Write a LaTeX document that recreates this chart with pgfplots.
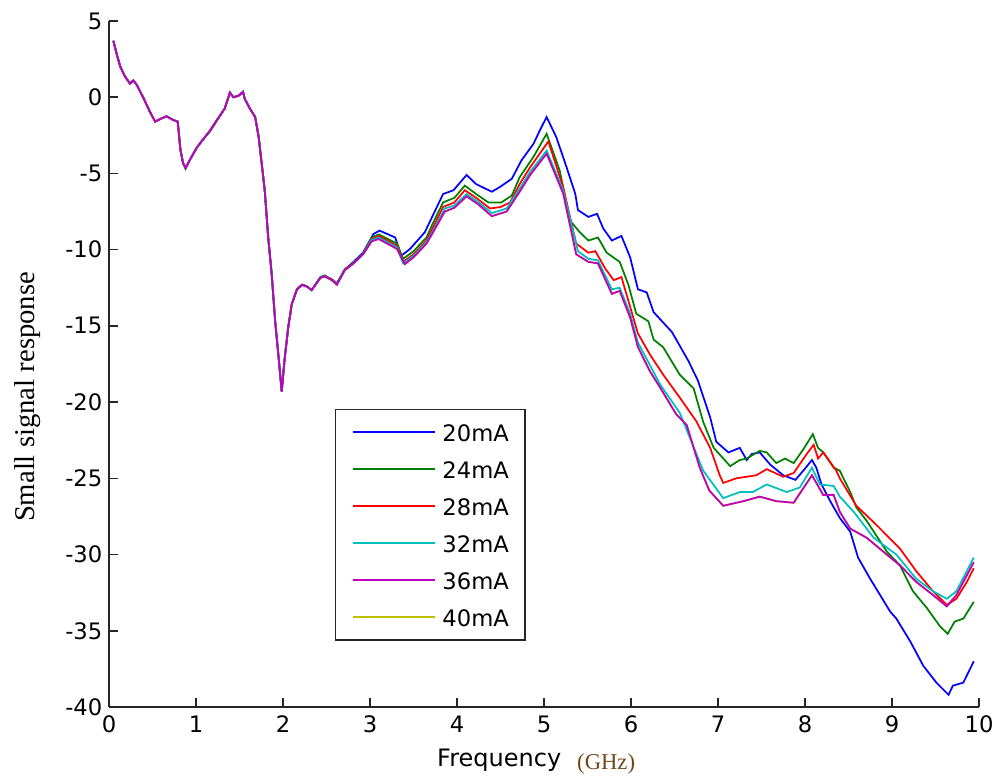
\documentclass[border=0pt]{standalone}
\usepackage{fontspec}
\setmainfont{DejaVu Sans}
\newfontfamily\serif{Liberation Serif}
\usepackage{pgfplots}
\pgfplotsset{compat=1.18}
\definecolor{mblue}{rgb}{0,0,1}
\definecolor{mgreen}{rgb}{0,0.5,0}
\definecolor{mred}{rgb}{1,0,0}
\definecolor{mcyan}{rgb}{0,0.75,0.75}
\definecolor{mmag}{rgb}{0.75,0,0.75}
\definecolor{myel}{rgb}{0.75,0.75,0}
\definecolor{axgray}{rgb}{0.15,0.15,0.15}
\definecolor{ghz}{rgb}{0.45,0.28,0.10}
\begin{document}
\begin{tikzpicture}
\useasboundingbox (-81.75pt,-56.25pt) rectangle (664.5pt,530.25pt);
\begin{axis}[
  at={(0,0)}, anchor=south west,
  scale only axis, width=652.5pt, height=514.5pt,
  xmin=0, xmax=10, ymin=-40, ymax=5,
  xtick={0,1,...,10}, ytick={-40,-35,...,5},
  axis lines=left,
  axis line style={-, line width=1.1pt, color=axgray},
  tick align=inside,
  major tick length=6.5pt,
  tick style={line width=1.1pt, color=axgray},
  /pgf/number format/assume math mode=true,
  ticklabel style={font=\fontsize{17}{20}\selectfont},
  yticklabel style={xshift=-1.5pt},
  xticklabel style={yshift=-3.3pt},
  xlabel={\fontsize{18}{21}\selectfont Frequency\hspace{12pt}\raisebox{-2.5pt}{\serif\fontsize{17}{19}\selectfont\color{ghz}(GHz)}},
  xlabel style={at={(axis description cs:0.491,-0.080)}, anchor=center},
  ylabel={\serif\fontsize{21.5}{24}\selectfont Small signal response},
  ylabel style={at={(axis description cs:-0.094,0.452)}, anchor=center},
  legend style={at={(axis description cs:0.2598,0.4344)}, anchor=north west,
    draw=axgray, line width=1pt, inner xsep=12pt, inner ysep=10.5pt,
    font=\fontsize{17}{20}\selectfont,
    nodes={inner sep=0pt, text height=13pt, text depth=0pt},
    row sep=14.75pt, column sep=5.25pt},
  legend cell align=left,
  legend image code/.code={\draw[#1, line width=1.3pt] (0pt,0pt) -- (61.5pt,0pt);},
  every axis plot/.append style={line width=1.3pt},
]
% 40 mA (hidden under 36 mA)
\addplot[myel, forget plot] coordinates {
(0.05,3.7)(0.09,2.8)(0.13,2.0)(0.18,1.4)(0.24,0.9)(0.28,1.1)(0.32,0.8)(0.40,-0.1)(0.47,-0.95)(0.53,-1.6)(0.60,-1.4)(0.66,-1.25)(0.74,-1.5)(0.79,-1.6)(0.82,-3.4)(0.85,-4.3)(0.88,-4.65)(0.93,-4.1)(1.01,-3.3)(1.07,-2.85)(1.16,-2.2)(1.24,-1.5)(1.33,-0.75)(1.39,0.3)(1.43,0.0)(1.49,0.1)(1.54,0.35)(1.56,-0.1)(1.62,-0.75)(1.68,-1.3)(1.72,-2.6)(1.76,-4.6)(1.79,-6.1)(1.83,-9.2)(1.87,-11.6)(1.91,-14.7)(1.95,-17.1)(1.985,-19.3)(2.02,-17.1)(2.06,-15.1)(2.10,-13.6)(2.16,-12.6)(2.22,-12.3)(2.27,-12.4)(2.33,-12.65)(2.43,-11.85)(2.48,-11.75)(2.56,-12.0)(2.62,-12.3)(2.71,-11.35)(2.81,-10.9)(2.92,-10.3)
(3.02,-9.45)(3.10,-9.3)(3.31,-9.95)(3.40,-10.95)(3.50,-10.5)(3.65,-9.6)(3.72,-8.9)(3.86,-7.5)(3.97,-7.25)(4.11,-6.5)(4.25,-7.05)(4.40,-7.8)(4.57,-7.5)(4.72,-6.2)(4.84,-5.1)(5.03,-3.7)(5.22,-6.3)(5.37,-10.3)(5.51,-10.8)(5.62,-10.9)(5.78,-12.9)(5.87,-12.7)(5.99,-14.45)(6.08,-16.4)(6.22,-18.0)(6.33,-19.0)(6.52,-20.8)(6.64,-21.5)(6.79,-24.3)(6.90,-25.8)(7.06,-26.8)(7.29,-26.5)(7.48,-26.2)(7.67,-26.5)(7.87,-26.6)(8.08,-24.8)(8.21,-26.1)(8.33,-26.1)(8.40,-27.2)(8.52,-28.3)(8.71,-28.9)(8.94,-30.0)(9.09,-30.7)(9.28,-31.8)(9.47,-32.65)(9.63,-33.4)(9.74,-32.65)(9.94,-30.5)
};
% 20 mA
\addplot[mblue] coordinates {
(0.05,3.7)(0.09,2.8)(0.13,2.0)(0.18,1.4)(0.24,0.9)(0.28,1.1)(0.32,0.8)(0.40,-0.1)(0.47,-0.95)(0.53,-1.6)(0.60,-1.4)(0.66,-1.25)(0.74,-1.5)(0.79,-1.6)(0.82,-3.4)(0.85,-4.3)(0.88,-4.65)(0.93,-4.1)(1.01,-3.3)(1.07,-2.85)(1.16,-2.2)(1.24,-1.5)(1.33,-0.75)(1.39,0.3)(1.43,0.0)(1.49,0.1)(1.54,0.35)(1.56,-0.1)(1.62,-0.75)(1.68,-1.3)(1.72,-2.6)(1.76,-4.6)(1.79,-6.1)(1.83,-9.2)(1.87,-11.6)(1.91,-14.7)(1.95,-17.1)(1.985,-19.3)(2.02,-17.1)(2.06,-15.1)(2.10,-13.6)(2.16,-12.6)(2.22,-12.3)(2.27,-12.4)(2.33,-12.65)(2.43,-11.8)(2.48,-11.7)(2.56,-11.95)(2.62,-12.2)(2.71,-11.3)(2.81,-10.8)(2.92,-10.2)
(3.04,-8.97)(3.11,-8.75)(3.29,-9.2)(3.36,-10.4)(3.46,-9.95)(3.63,-8.86)(3.71,-7.9)(3.84,-6.35)(3.96,-6.1)(4.11,-5.1)(4.22,-5.7)(4.40,-6.2)(4.49,-5.9)(4.63,-5.35)(4.74,-4.15)(4.88,-3.05)(4.95,-2.2)(5.03,-1.3)(5.14,-2.6)(5.26,-4.6)(5.36,-6.35)(5.39,-7.4)(5.51,-7.85)(5.61,-7.65)(5.68,-8.6)(5.78,-9.4)(5.89,-9.1)(5.99,-10.5)(6.08,-12.6)(6.18,-12.8)(6.26,-14.1)(6.47,-15.4)(6.66,-17.3)(6.77,-18.6)(6.91,-21.0)(6.98,-22.6)(7.12,-23.3)(7.25,-23.0)(7.33,-23.8)(7.39,-23.4)(7.48,-23.3)(7.60,-24.1)(7.75,-24.8)(7.89,-25.1)(7.98,-24.5)(8.08,-23.8)(8.13,-24.3)(8.19,-25.4)(8.29,-26.5)(8.40,-27.6)(8.52,-28.5)(8.61,-30.2)(8.75,-31.6)(8.98,-33.75)(9.05,-34.2)(9.21,-35.7)(9.36,-37.3)(9.51,-38.4)(9.65,-39.2)(9.70,-38.6)(9.82,-38.4)(9.94,-37.0)
};
\addlegendentry{20mA}
% 24 mA
\addplot[mgreen] coordinates {
(0.05,3.7)(0.09,2.8)(0.13,2.0)(0.18,1.4)(0.24,0.9)(0.28,1.1)(0.32,0.8)(0.40,-0.1)(0.47,-0.95)(0.53,-1.6)(0.60,-1.4)(0.66,-1.25)(0.74,-1.5)(0.79,-1.6)(0.82,-3.4)(0.85,-4.3)(0.88,-4.7)(0.93,-4.1)(1.01,-3.3)(1.07,-2.85)(1.16,-2.25)(1.24,-1.55)(1.33,-0.75)(1.39,0.3)(1.43,0.0)(1.49,0.1)(1.54,0.35)(1.56,-0.1)(1.62,-0.75)(1.68,-1.3)(1.72,-2.6)(1.76,-4.6)(1.79,-6.1)(1.83,-9.2)(1.87,-11.6)(1.91,-14.7)(1.95,-17.1)(1.985,-19.3)(2.02,-17.1)(2.06,-15.1)(2.10,-13.6)(2.16,-12.6)(2.22,-12.3)(2.27,-12.4)(2.33,-12.65)(2.43,-11.8)(2.48,-11.7)(2.56,-11.95)(2.62,-12.2)(2.71,-11.3)(2.81,-10.85)(2.92,-10.25)
(3.02,-9.2)(3.10,-9.0)(3.31,-9.6)(3.38,-10.6)(3.50,-10.1)(3.65,-9.2)(3.72,-8.3)(3.84,-6.9)(3.97,-6.6)(4.09,-5.8)(4.22,-6.35)(4.36,-6.9)(4.51,-6.9)(4.63,-6.45)(4.72,-5.25)(4.88,-3.9)(5.03,-2.4)(5.18,-4.8)(5.30,-8.1)(5.41,-8.85)(5.51,-9.4)(5.62,-9.2)(5.72,-10.2)(5.87,-10.8)(5.97,-12.3)(6.06,-14.2)(6.20,-14.7)(6.26,-15.9)(6.37,-16.4)(6.56,-18.2)(6.72,-19.1)(6.83,-21.3)(6.95,-23.0)(7.14,-24.2)(7.25,-23.8)(7.33,-23.7)(7.48,-23.2)(7.56,-23.3)(7.67,-24.0)(7.77,-23.7)(7.87,-24.0)(7.98,-23.1)(8.09,-22.1)(8.15,-23.0)(8.21,-23.3)(8.33,-24.3)(8.40,-24.5)(8.52,-25.9)(8.59,-26.9)(8.71,-27.8)(8.94,-29.8)(9.09,-30.7)(9.24,-32.4)(9.40,-33.5)(9.55,-34.7)(9.64,-35.2)(9.72,-34.4)(9.82,-34.2)(9.94,-33.1)
};
\addlegendentry{24mA}
% 28 mA
\addplot[mred] coordinates {
(0.05,3.7)(0.09,2.8)(0.13,2.0)(0.18,1.4)(0.24,0.9)(0.28,1.1)(0.32,0.8)(0.40,-0.1)(0.47,-0.95)(0.53,-1.6)(0.60,-1.4)(0.66,-1.25)(0.74,-1.5)(0.79,-1.6)(0.82,-3.4)(0.85,-4.3)(0.88,-4.65)(0.93,-4.1)(1.01,-3.3)(1.07,-2.85)(1.16,-2.2)(1.24,-1.5)(1.33,-0.75)(1.39,0.3)(1.43,0.0)(1.49,0.1)(1.54,0.35)(1.56,-0.1)(1.62,-0.75)(1.68,-1.3)(1.72,-2.6)(1.76,-4.6)(1.79,-6.1)(1.83,-9.2)(1.87,-11.6)(1.91,-14.7)(1.95,-17.1)(1.985,-19.3)(2.02,-17.1)(2.06,-15.1)(2.10,-13.6)(2.16,-12.6)(2.22,-12.3)(2.27,-12.4)(2.33,-12.65)(2.43,-11.85)(2.48,-11.75)(2.56,-11.95)(2.62,-12.25)(2.71,-11.3)(2.81,-10.9)(2.92,-10.3)
(3.02,-9.3)(3.10,-9.1)(3.31,-9.75)(3.38,-10.8)(3.50,-10.3)(3.65,-9.4)(3.72,-8.6)(3.84,-7.2)(3.97,-6.9)(4.09,-6.1)(4.22,-6.6)(4.38,-7.3)(4.50,-7.2)(4.61,-6.9)(4.72,-5.7)(4.84,-4.6)(5.05,-2.9)(5.22,-5.9)(5.37,-9.6)(5.51,-10.2)(5.59,-10.1)(5.70,-11.2)(5.80,-12.0)(5.89,-11.8)(6.08,-15.5)(6.22,-16.9)(6.37,-18.2)(6.56,-19.7)(6.75,-21.25)(6.91,-23.0)(7.02,-24.8)(7.06,-25.3)(7.21,-25.0)(7.44,-24.8)(7.56,-24.4)(7.75,-24.9)(7.87,-24.65)(8.02,-23.4)(8.10,-22.8)(8.15,-23.7)(8.21,-23.3)(8.36,-24.5)(8.40,-25.0)(8.59,-26.8)(8.82,-28.05)(9.09,-29.6)(9.28,-31.1)(9.47,-32.4)(9.63,-33.3)(9.74,-32.9)(9.86,-31.8)(9.94,-30.9)
};
\addlegendentry{28mA}
% 32 mA
\addplot[mcyan] coordinates {
(0.05,3.7)(0.09,2.8)(0.13,2.0)(0.18,1.4)(0.24,0.9)(0.28,1.1)(0.32,0.8)(0.40,-0.1)(0.47,-0.95)(0.53,-1.6)(0.60,-1.4)(0.66,-1.25)(0.74,-1.5)(0.79,-1.6)(0.82,-3.4)(0.85,-4.3)(0.88,-4.65)(0.93,-4.1)(1.01,-3.3)(1.07,-2.85)(1.16,-2.2)(1.24,-1.5)(1.33,-0.75)(1.39,0.3)(1.43,0.0)(1.49,0.1)(1.54,0.35)(1.56,-0.1)(1.62,-0.75)(1.68,-1.3)(1.72,-2.6)(1.76,-4.6)(1.79,-6.1)(1.83,-9.2)(1.87,-11.6)(1.91,-14.7)(1.95,-17.1)(1.985,-19.3)(2.02,-17.1)(2.06,-15.1)(2.10,-13.6)(2.16,-12.6)(2.22,-12.3)(2.27,-12.4)(2.33,-12.65)(2.43,-11.85)(2.48,-11.75)(2.56,-12.0)(2.62,-12.25)(2.71,-11.35)(2.81,-10.9)(2.92,-10.3)
(3.02,-9.35)(3.10,-9.2)(3.31,-9.85)(3.38,-10.9)(3.50,-10.4)(3.65,-9.5)(3.72,-8.8)(3.86,-7.3)(3.97,-7.1)(4.11,-6.35)(4.25,-6.9)(4.40,-7.6)(4.57,-7.3)(4.72,-6.0)(4.84,-4.9)(5.03,-3.5)(5.22,-6.1)(5.39,-10.1)(5.51,-10.6)(5.62,-10.7)(5.78,-12.6)(5.87,-12.5)(5.99,-14.2)(6.08,-16.1)(6.22,-17.6)(6.33,-18.8)(6.56,-20.7)(6.83,-24.5)(7.06,-26.3)(7.25,-25.9)(7.40,-25.9)(7.56,-25.4)(7.79,-25.9)(7.94,-25.6)(8.08,-24.3)(8.17,-25.4)(8.33,-25.5)(8.40,-26.2)(8.56,-27.2)(8.79,-28.9)(9.05,-30.0)(9.28,-31.6)(9.47,-32.4)(9.63,-32.9)(9.74,-32.4)(9.94,-30.2)
};
\addlegendentry{32mA}
% 36 mA
\addplot[mmag] coordinates {
(0.05,3.7)(0.09,2.8)(0.13,2.0)(0.18,1.4)(0.24,0.9)(0.28,1.1)(0.32,0.8)(0.40,-0.1)(0.47,-0.95)(0.53,-1.6)(0.60,-1.4)(0.66,-1.25)(0.74,-1.5)(0.79,-1.6)(0.82,-3.4)(0.85,-4.3)(0.88,-4.65)(0.93,-4.1)(1.01,-3.3)(1.07,-2.85)(1.16,-2.2)(1.24,-1.5)(1.33,-0.75)(1.39,0.3)(1.43,0.0)(1.49,0.1)(1.54,0.35)(1.56,-0.1)(1.62,-0.75)(1.68,-1.3)(1.72,-2.6)(1.76,-4.6)(1.79,-6.1)(1.83,-9.2)(1.87,-11.6)(1.91,-14.7)(1.95,-17.1)(1.985,-19.3)(2.02,-17.1)(2.06,-15.1)(2.10,-13.6)(2.16,-12.6)(2.22,-12.3)(2.27,-12.4)(2.33,-12.65)(2.43,-11.85)(2.48,-11.75)(2.56,-12.0)(2.62,-12.3)(2.71,-11.35)(2.81,-10.9)(2.92,-10.3)
(3.02,-9.45)(3.10,-9.3)(3.31,-9.95)(3.40,-10.95)(3.50,-10.5)(3.65,-9.6)(3.72,-8.9)(3.86,-7.5)(3.97,-7.25)(4.11,-6.5)(4.25,-7.05)(4.40,-7.8)(4.57,-7.5)(4.72,-6.2)(4.84,-5.1)(5.03,-3.7)(5.22,-6.3)(5.37,-10.3)(5.51,-10.8)(5.62,-10.9)(5.78,-12.9)(5.87,-12.7)(5.99,-14.45)(6.08,-16.4)(6.22,-18.0)(6.33,-19.0)(6.52,-20.8)(6.64,-21.5)(6.79,-24.3)(6.90,-25.8)(7.06,-26.8)(7.29,-26.5)(7.48,-26.2)(7.67,-26.5)(7.87,-26.6)(8.08,-24.8)(8.21,-26.1)(8.33,-26.1)(8.40,-27.2)(8.52,-28.3)(8.71,-28.9)(8.94,-30.0)(9.09,-30.7)(9.28,-31.8)(9.47,-32.65)(9.63,-33.4)(9.74,-32.65)(9.94,-30.5)
};
\addlegendentry{36mA}
\addlegendimage{myel, line width=1.3pt}
\addlegendentry{40mA}
\end{axis}
\end{tikzpicture}
\end{document}
